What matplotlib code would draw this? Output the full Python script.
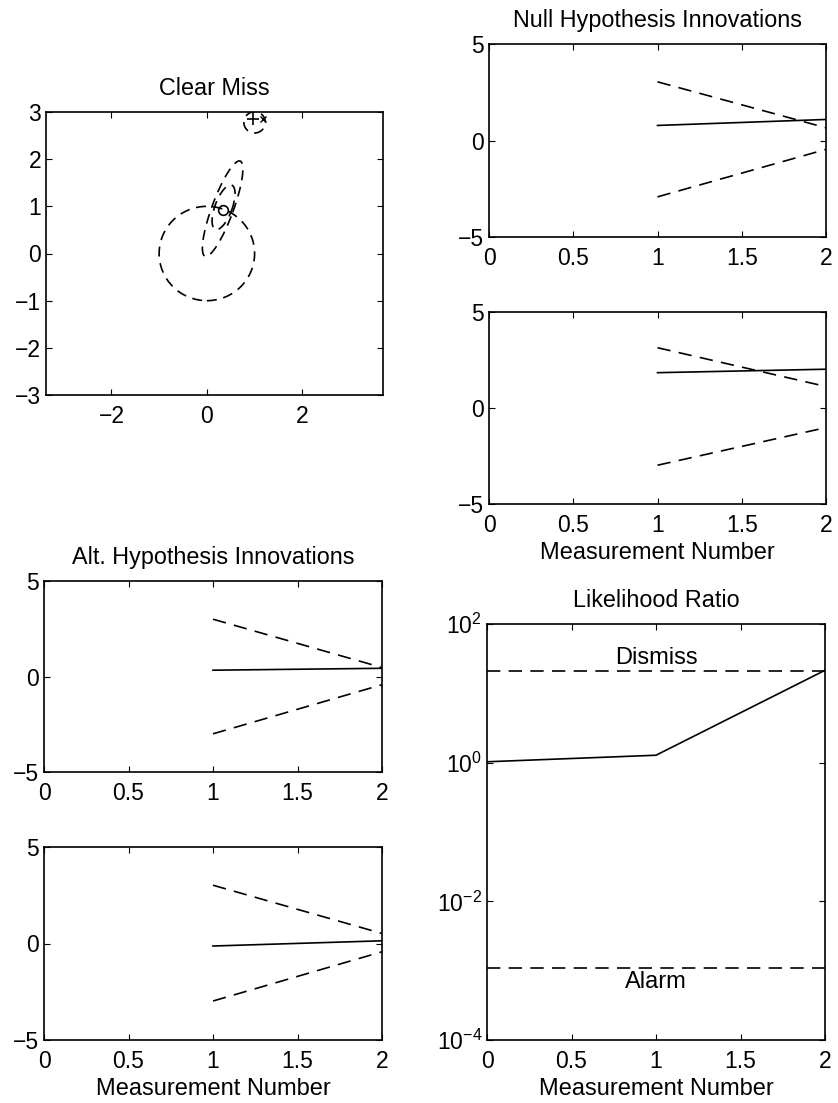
import numpy as np
from matplotlib import pyplot as plt
from matplotlib.patches import Ellipse

plt.rcParams['font.family'] = ['Liberation Sans', 'DejaVu Sans']
plt.rcParams['font.size'] = 16.5
plt.rcParams['mathtext.default'] = 'regular'
plt.rcParams['axes.linewidth'] = 1.2
plt.rcParams['xtick.direction'] = 'in'
plt.rcParams['ytick.direction'] = 'in'
plt.rcParams['xtick.top'] = True
plt.rcParams['ytick.right'] = True
plt.rcParams['xtick.major.size'] = 4
plt.rcParams['ytick.major.size'] = 4
plt.rcParams['xtick.major.pad'] = 7.3

# clear miss geometry: (cx, cy, width, height, angle)
ellipses = [
    (0.0, 0.0, 2.0, 2.0, 0),
    (0.33, 0.95, 2.15, 0.45, 70),
    (0.35, 0.98, 1.0, 0.36, 70),
    (1.0, 2.78, 0.45, 0.45, 0),
]
meas_pt = (0.34, 0.92)
plus_pt = (0.97, 2.85)
x_pt = (1.17, 2.85)

# innovations: x, solid, upper bound, lower bound
meas_x = [1, 2]
null1 = [0.78, 1.09]
null1_hi = [3.04, 0.66]
null1_lo = [-2.92, -0.46]
null2 = [1.84, 2.02]
null2_hi = [3.14, 1.12]
null2_lo = [-2.98, -1.02]
alt1 = [0.33, 0.43]
alt1_hi = [3.0, 0.47]
alt1_lo = [-3.0, -0.43]
alt2 = [-0.13, 0.14]
alt2_hi = [3.02, 0.52]
alt2_lo = [-2.98, -0.43]

# likelihood ratio
lr_x = [0, 1, 2]
lr = [1.03, 1.28, 21.5]
dismiss = 21
alarm = 1.1e-3

W, H = 838, 1103
fig = plt.figure(figsize=(W / 100, H / 100), dpi=100)


def px_axes(l, t, r, b):
    return fig.add_axes([l / W, 1 - b / H, (r - l) / W, (b - t) / H])


dash = dict(color='k', lw=1.2, dashes=(8, 5))
solid = dict(color='k', lw=1.2)
tsize = 16.8
lsize = 17

ax = px_axes(46, 112, 383, 395)
for cx, cy, w, h, a in ellipses:
    ax.add_patch(Ellipse((cx, cy), w, h, angle=a, fill=False, ec='k', lw=1.2,
                         ls=(0, (6, 4))))
ax.plot(*meas_pt, 'o', mfc='none', mec='k', ms=7, mew=1.2)
ax.plot(*plus_pt, '+', color='k', ms=8, mew=1.2)
ax.plot(*x_pt, 'x', color='k', ms=5, mew=1.0)
ax.set_xlim(-3.37, 3.69)
ax.set_ylim(-3, 3)
ax.set_xticks([-2, 0, 2])
ax.set_yticks([-3, -2, -1, 0, 1, 2, 3])
ax.set_title('Clear Miss', pad=12, fontsize=tsize)


def innov(ax, y, hi, lo):
    ax.plot(meas_x, hi, **dash)
    ax.plot(meas_x, lo, **dash)
    ax.plot(meas_x, y, **solid)
    ax.set_xlim(0, 2)
    ax.set_ylim(-5, 5)
    ax.set_xticks([0, 0.5, 1, 1.5, 2])
    ax.set_xticklabels(['0', '0.5', '1', '1.5', '2'])
    ax.set_yticks([-5, 0, 5])


ax = px_axes(489, 44, 826, 237)
innov(ax, null1, null1_hi, null1_lo)
ax.set_title('Null Hypothesis Innovations', pad=12, fontsize=tsize)
ax = px_axes(489, 312, 826, 504)
innov(ax, null2, null2_hi, null2_lo)
ax.set_xlabel('Measurement Number', labelpad=3.5, fontsize=lsize)

ax = px_axes(44, 581, 382, 772)
innov(ax, alt1, alt1_hi, alt1_lo)
ax.set_title('Alt. Hypothesis Innovations', pad=12, fontsize=tsize)
ax = px_axes(44, 847, 382, 1040)
innov(ax, alt2, alt2_hi, alt2_lo)
ax.set_xlabel('Measurement Number', labelpad=3.5, fontsize=lsize)

ax = px_axes(487, 624, 825, 1040)
ax.axhline(dismiss, **dash)
ax.axhline(alarm, **dash)
ax.plot(lr_x, lr, **solid)
ax.set_yscale('log')
ax.set_xlim(0, 2)
ax.set_ylim(1e-4, 1e2)
ax.set_yticks([1e-4, 1e-2, 1e0, 1e2])
ax.set_yticklabels(['$10^{-4}$', '$10^{-2}$', '$10^{0}$', '$10^{2}$'])
ax.minorticks_off()
ax.set_xticks([0, 0.5, 1, 1.5, 2])
ax.set_xticklabels(['0', '0.5', '1', '1.5', '2'])
ax.text(1, 32, 'Dismiss', ha='center', va='center', fontsize=lsize)
ax.text(1, 6.9e-4, 'Alarm', ha='center', va='center', fontsize=lsize)
ax.set_title('Likelihood Ratio', pad=12, fontsize=tsize)
ax.set_xlabel('Measurement Number', labelpad=3.5, fontsize=lsize)

fig.savefig('out.png', dpi=100)
